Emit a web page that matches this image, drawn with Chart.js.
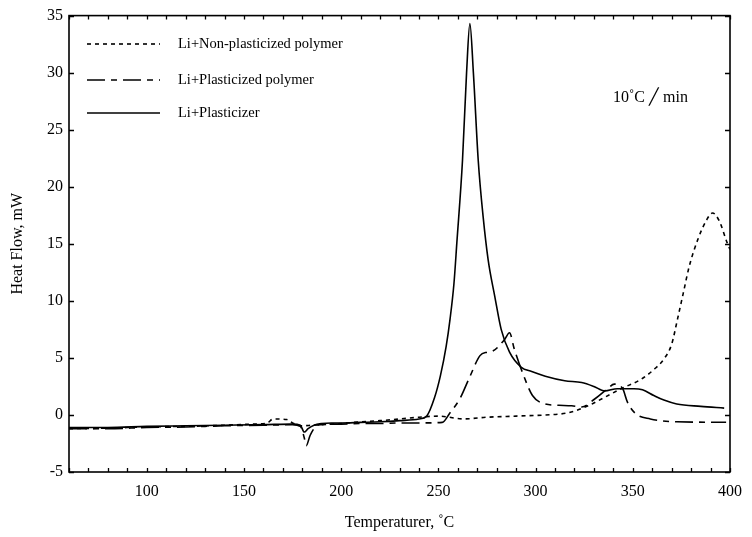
<!DOCTYPE html>
<html><head><meta charset="utf-8">
<script src="https://cdn.jsdelivr.net/npm/chart.js@4.4.0/dist/chart.umd.min.js"></script>
<style>html,body{margin:0;padding:0;background:#fff}</style>
</head><body>
<canvas id="c" width="752" height="537"></canvas>
<script>
// ---- data ----
const seriesNames = ['Li+Non-plasticized polymer', 'Li+Plasticized polymer', 'Li+Plasticizer'];

const tempNonPlast = [60, 80, 100, 120, 140, 155, 162, 165, 172, 175, 180, 185, 190, 200, 210, 220, 230, 240, 250, 263, 275, 290, 305, 317, 327, 335, 344, 354, 361, 366, 370, 373, 376, 379, 383.5, 388, 391, 394.5, 398.5, 400];
const heatNonPlast = [-1.2, -1.15, -1.05, -1.0, -0.9, -0.8, -0.7, -0.35, -0.4, -0.7, -0.95, -0.9, -0.85, -0.75, -0.6, -0.5, -0.35, -0.2, -0.1, -0.35, -0.2, -0.1, 0.0, 0.2, 0.8, 1.5, 2.3, 3.1, 4.0, 4.9, 6.2, 8.4, 10.7, 13.0, 15.4, 17.1, 17.7, 17.0, 15.1, 14.5];

const tempPlastPoly = [60, 80, 100, 120, 140, 160, 175, 179, 181, 182, 184, 187, 190, 195, 200, 210, 220, 230, 240, 252, 256, 261, 266.3, 271.4, 275, 278, 284, 286.6, 289, 293.3, 298.4, 305, 312, 318.6, 323.7, 330.4, 337, 340.5, 344.8, 347.3, 351.5, 359, 372.6, 398];
const heatPlastPoly = [-1.2, -1.2, -1.1, -1.05, -0.95, -0.9, -0.85, -1.0, -2.0, -2.7, -1.8, -1.0, -0.85, -0.8, -0.8, -0.75, -0.75, -0.7, -0.7, -0.65, 0.2, 1.4, 3.4, 5.2, 5.5, 5.6, 6.6, 7.2, 5.8, 3.7, 1.7, 0.96, 0.85, 0.8, 0.7, 1.4, 2.3, 2.7, 2.3, 1.1, 0.1, -0.35, -0.6, -0.64];

const tempPlasticizer = [60, 80, 100, 120, 140, 160, 175, 179, 181, 183, 186, 190, 195, 200, 210, 220, 230, 240, 244, 248, 251, 254, 256, 258, 259.5, 262.4, 264.5, 266.2, 268, 270.5, 273, 275.6, 279, 282.3, 286.6, 292.5, 298, 305, 315, 323.7, 330, 335.5, 342, 350.6, 355, 360.8, 366, 372.6, 385, 397];
const heatPlasticizer = [-1.1, -1.1, -1.0, -0.95, -0.9, -0.85, -0.8, -0.9, -1.5, -1.2, -0.9, -0.75, -0.7, -0.7, -0.65, -0.6, -0.5, -0.35, -0.1, 1.5, 3.4, 6.0, 8.4, 11.5, 15.1, 22.3, 30, 34.3, 30, 22.3, 17.4, 13.6, 10.4, 7.5, 5.5, 4.2, 3.8, 3.4, 3.0, 2.85, 2.5, 2.1, 2.3, 2.3, 2.2, 1.7, 1.3, 0.96, 0.75, 0.6];

const xTickValues = [100, 150, 200, 250, 300, 350, 400];
const yTickValues = [-5, 0, 5, 10, 15, 20, 25, 30, 35];
const xMinorStep = 10;
const annotationText = '10˚C ╱ min';

// ---- chart ----
const FONT = '"Liberation Serif", "Times New Roman", serif';
const toXY = (xs, ys) => xs.map((x, i) => ({x: x, y: ys[i]}));

const dashStyles = [[4, 4], [18, 6, 6, 6], []];

const framePlugin = {
  id: 'frame',
  beforeDraw(chart) {
    const ctx = chart.ctx;
    ctx.save();
    ctx.fillStyle = '#fff';
    ctx.fillRect(0, 0, chart.width, chart.height);
    ctx.restore();
  },
  afterDraw(chart) {
    const {ctx, chartArea: a, scales: {x, y}} = chart;
    ctx.save();
    ctx.strokeStyle = '#000';
    ctx.lineWidth = 1.6;
    ctx.setLineDash([]);
    ctx.strokeRect(a.left, a.top, a.right - a.left, a.bottom - a.top);
    ctx.lineWidth = 1.3;
    ctx.beginPath();
    for (let v = x.min; v <= x.max + 0.001; v += xMinorStep) {
      const px = Math.round(x.getPixelForValue(v)) + 0.5;
      ctx.moveTo(px, a.bottom); ctx.lineTo(px, a.bottom - 4);
      ctx.moveTo(px, a.top); ctx.lineTo(px, a.top + 4);
    }
    yTickValues.forEach(v => {
      const py = Math.round(y.getPixelForValue(v)) + 0.5;
      ctx.moveTo(a.left, py); ctx.lineTo(a.left + 5, py);
      ctx.moveTo(a.right, py); ctx.lineTo(a.right - 5, py);
    });
    ctx.stroke();

    // legend
    const rows = [44, 80, 113];
    chart.data.datasets.forEach((ds, i) => {
      ctx.beginPath();
      ctx.lineWidth = 1.6;
      ctx.setLineDash(ds.borderDash || []);
      ctx.moveTo(87, rows[i]); ctx.lineTo(160, rows[i]);
      ctx.stroke();
      ctx.setLineDash([]);
      ctx.fillStyle = '#000';
      ctx.font = '14.5px ' + FONT;
      ctx.textBaseline = 'middle';
      ctx.textAlign = 'left';
      ctx.fillText(ds.label, 178, rows[i]);
    });
    // annotation
    ctx.font = '16px ' + FONT;
    ctx.textBaseline = 'middle';
    ctx.fillText(annotationText, 613, 98);
    ctx.restore();
  }
};

new Chart(document.getElementById('c'), {
  type: 'line',
  data: {
    datasets: [
      {label: seriesNames[0], data: toXY(tempNonPlast, heatNonPlast), borderDash: dashStyles[0]},
      {label: seriesNames[1], data: toXY(tempPlastPoly, heatPlastPoly), borderDash: dashStyles[1]},
      {label: seriesNames[2], data: toXY(tempPlasticizer, heatPlasticizer), borderDash: dashStyles[2]}
    ].map(d => Object.assign(d, {
      borderColor: '#000', borderWidth: 1.6, pointRadius: 0, fill: false,
      cubicInterpolationMode: 'monotone'
    }))
  },
  options: {
    responsive: false,
    animation: false,
    devicePixelRatio: 1,
    layout: {padding: {left: 0, right: 11, top: 15, bottom: 0}},
    plugins: {legend: {display: false}, tooltip: {enabled: false}},
    scales: {
      x: {
        type: 'linear', min: 60, max: 400,
        grid: {display: false, drawTicks: false},
        border: {display: false},
        afterBuildTicks: s => { s.ticks = xTickValues.map(v => ({value: v})); },
        afterFit: s => { s.height = 65; },
        ticks: {color: '#000', font: {family: FONT, size: 16}, padding: 10, maxRotation: 0, autoSkip: false},
        title: {display: true, text: 'Temperaturer, ˚C', color: '#000', font: {family: FONT, size: 16}, padding: {top: 0, bottom: 5}}
      },
      y: {
        type: 'linear', min: -5, max: 35,
        grid: {display: false, drawTicks: false},
        border: {display: false},
        afterBuildTicks: s => { s.ticks = yTickValues.map(v => ({value: v})); },
        afterFit: s => { s.width = 69; },
        ticks: {color: '#000', font: {family: FONT, size: 16}, padding: 6, autoSkip: false},
        title: {display: true, text: 'Heat Flow, mW', color: '#000', font: {family: FONT, size: 16}, padding: {top: 8, bottom: 0}}
      }
    }
  },
  plugins: [framePlugin]
});
</script>
</body></html>
